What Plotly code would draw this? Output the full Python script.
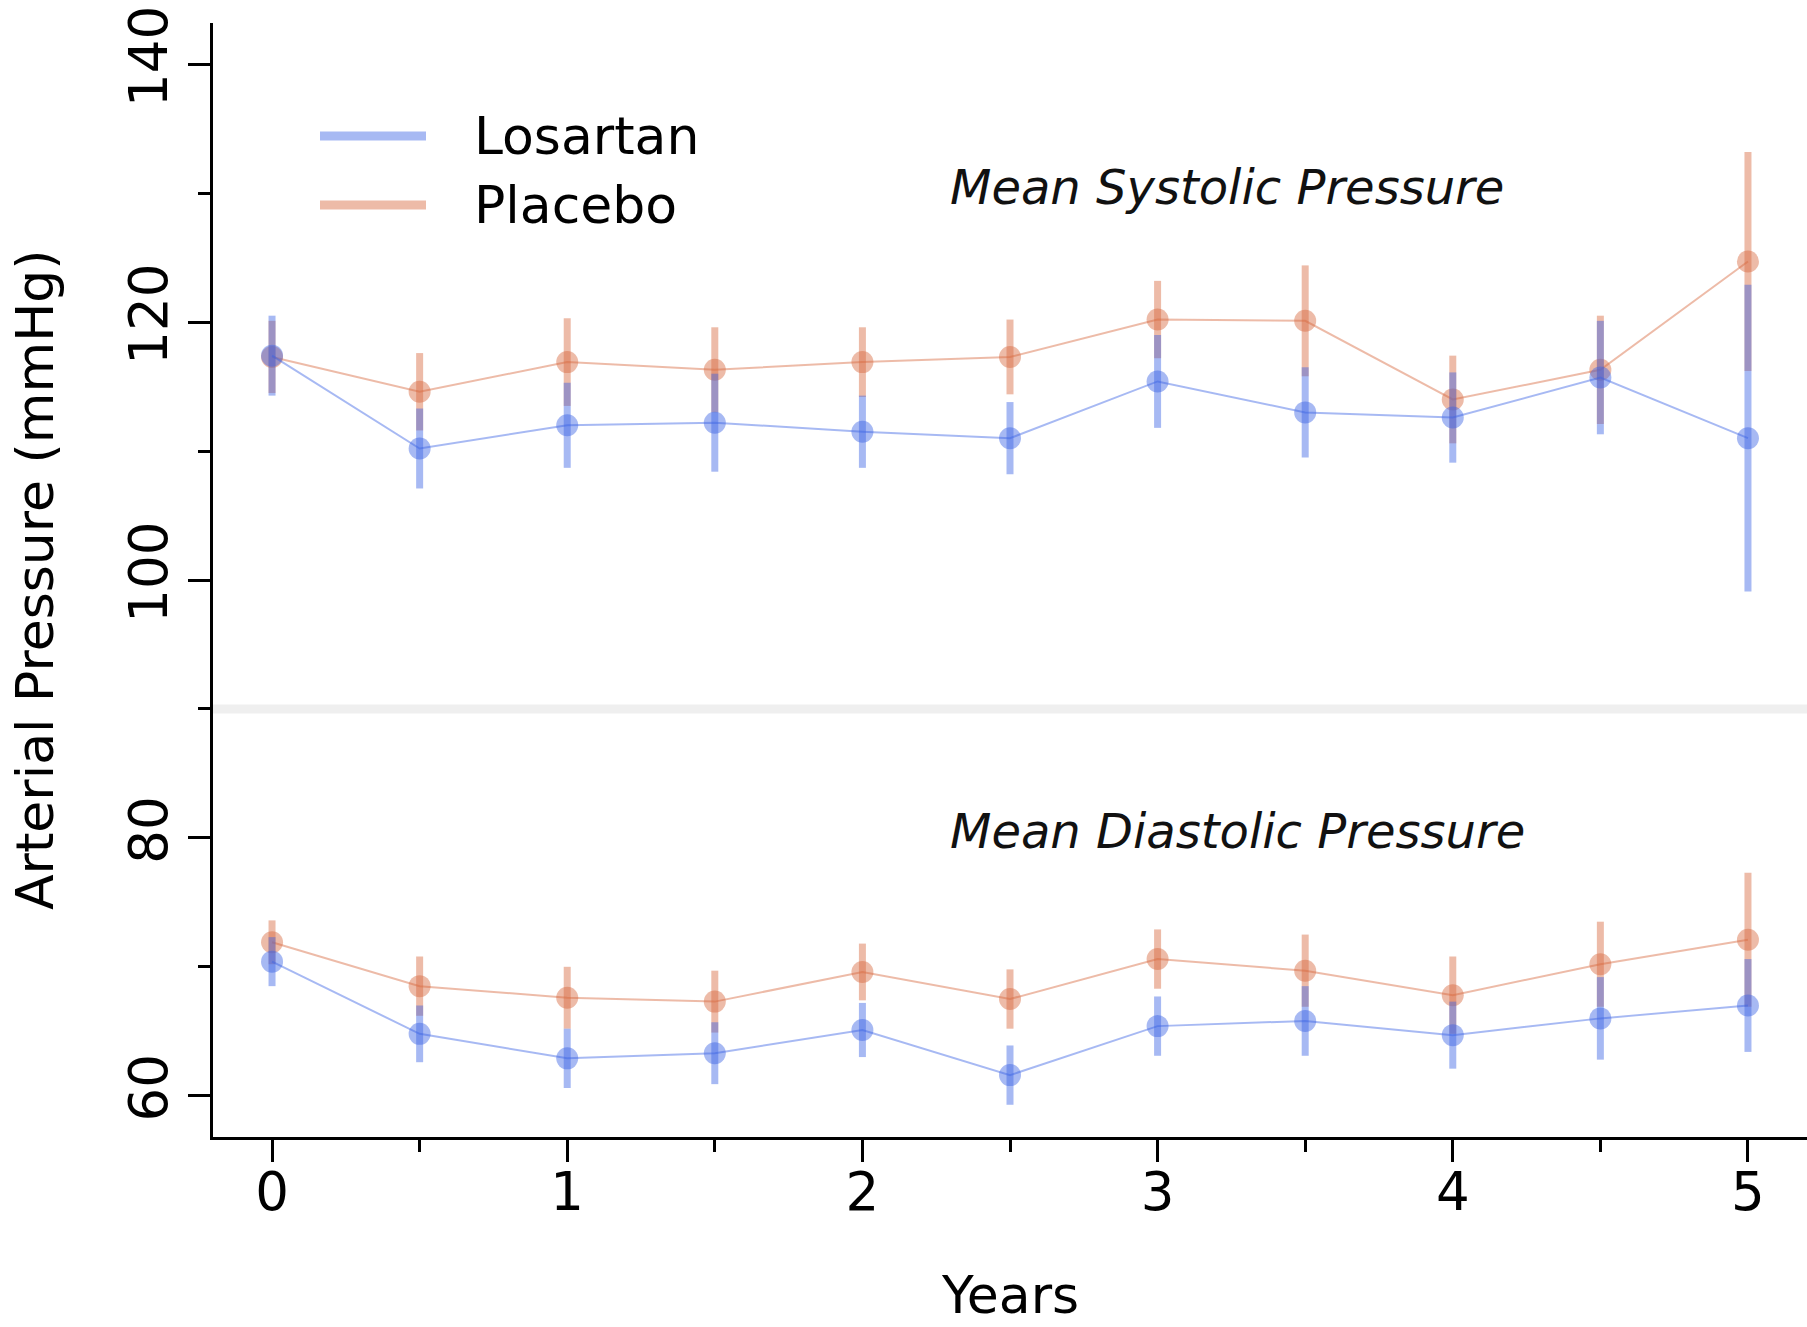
import plotly.graph_objects as go

# Follow-up time points (years)
years = [0, 0.5, 1, 1.5, 2, 2.5, 3, 3.5, 4, 4.5, 5]

# Mean systolic pressure (mmHg) and error half-widths
sys_losartan = [117.4, 110.2, 112.0, 112.2, 111.5, 111.0, 115.4, 113.0, 112.6, 115.7, 111.0]
sys_losartan_err = [3.1, 3.1, 3.3, 3.8, 2.8, 2.8, 3.6, 3.5, 3.5, 4.4, 11.9]
sys_placebo = [117.3, 114.6, 116.9, 116.3, 116.9, 117.3, 120.2, 120.1, 114.0, 116.3, 124.7]
sys_placebo_err = [2.8, 3.0, 3.4, 3.3, 2.7, 2.9, 3.0, 4.3, 3.4, 4.2, 8.5]

# Mean diastolic pressure (mmHg) and error half-widths
dia_losartan = [70.4, 64.8, 62.9, 63.3, 65.1, 61.6, 65.4, 65.8, 64.7, 66.0, 67.0]
dia_losartan_err = [1.9, 2.2, 2.3, 2.4, 2.1, 2.3, 2.3, 2.7, 2.6, 3.2, 3.6]
dia_placebo = [71.9, 68.5, 67.6, 67.3, 69.6, 67.5, 70.6, 69.7, 67.8, 70.2, 72.1]
dia_placebo_err = [1.7, 2.3, 2.4, 2.4, 2.2, 2.3, 2.3, 2.8, 3.0, 3.3, 5.2]

groups = ["Losartan", "Placebo"]
x_tick_vals = [0, 1, 2, 3, 4, 5]
y_tick_vals = [60, 80, 100, 120, 140]

FONT = "DejaVu Sans"
BLUE = "rgba(60, 100, 228, {a})"
ORANGE = "rgba(214, 104, 62, {a})"
ALPHA = 0.45

fig = go.Figure()


def add_series(y, err, color):
    fig.add_trace(go.Scatter(
        x=years, y=y,
        mode="lines+markers",
        line=dict(color=color.format(a=ALPHA), width=2),
        marker=dict(size=22, color=color.format(a=ALPHA), line=dict(width=0)),
        error_y=dict(type="data", array=err, visible=True,
                     color=color.format(a=ALPHA), thickness=7, width=0),
        showlegend=False,
        hoverinfo="x+y",
    ))


# Placebo drawn first so Losartan sits on top where they overlap
add_series(sys_placebo, sys_placebo_err, ORANGE)
add_series(dia_placebo, dia_placebo_err, ORANGE)
add_series(sys_losartan, sys_losartan_err, BLUE)
add_series(dia_losartan, dia_losartan_err, BLUE)

# Separator between the systolic and diastolic panels
fig.add_shape(type="line", xref="paper", x0=0, x1=1, yref="y", y0=90, y1=90,
              line=dict(color="#efefef", width=9), layer="below")

# Hand-drawn legend (long line swatches)
legend_rows = [(groups[0], BLUE, 136), (groups[1], ORANGE, 205)]
W, H = 1807, 1327
L, R, T, B = 213, 0, 23, 190
pw, ph = W - L - R, H - T - B
for name, col, ypx in legend_rows:
    yp = 1 - (ypx - T) / ph
    fig.add_shape(type="line", xref="paper", yref="paper",
                  x0=(320 - L) / pw, x1=(426 - L) / pw, y0=yp, y1=yp,
                  line=dict(color=col.format(a=ALPHA), width=9))
    fig.add_annotation(xref="paper", yref="paper", x=(472 - L) / pw, y=yp,
                       text=name, showarrow=False, xanchor="left", yanchor="middle",
                       font=dict(family=FONT, size=52, color="black"))

# Panel labels
fig.add_annotation(x=2.29, y=130.5, text="<i>Mean Systolic Pressure</i>",
                   showarrow=False, xanchor="left", yanchor="middle",
                   font=dict(family=FONT, size=48, color="#111111"))
fig.add_annotation(x=2.29, y=80.5, text="<i>Mean Diastolic Pressure</i>",
                   showarrow=False, xanchor="left", yanchor="middle",
                   font=dict(family=FONT, size=48, color="#111111"))

# Axis titles
fig.add_annotation(xref="paper", yref="paper", x=(35 - L) / pw, y=0.5,
                   text="Arterial Pressure (mmHg)", textangle=-90, showarrow=False,
                   xanchor="center", yanchor="middle",
                   font=dict(family=FONT, size=52, color="black"))
fig.add_annotation(xref="paper", yref="paper", x=0.5, y=-B / ph,
                   text="Years", showarrow=False, xanchor="center", yanchor="bottom",
                   font=dict(family=FONT, size=52, color="black"))

fig.update_layout(
    width=W, height=H,
    margin=dict(l=L, r=R, t=T, b=B, pad=0),
    paper_bgcolor="white", plot_bgcolor="white",
    font=dict(family=FONT, size=52, color="black"),
    showlegend=False,
)
fig.update_xaxes(
    range=[-0.2, 5.2], tickvals=x_tick_vals, ticktext=[str(v) for v in x_tick_vals],
    showline=True, linecolor="black", linewidth=3, mirror=False,
    ticks="outside", ticklen=22, tickwidth=2.5, tickcolor="black",
    minor=dict(ticks="outside", ticklen=12, tickwidth=2.5, tickcolor="black",
               dtick=0.5, tick0=0, showgrid=False),
    showgrid=False, zeroline=False, ticklabelstandoff=-16,
    tickfont=dict(family=FONT, size=53, color="black"),
)
fig.update_yaxes(
    range=[56.8, 143.2], tickvals=y_tick_vals, ticktext=[str(v) for v in y_tick_vals],
    showline=True, linecolor="black", linewidth=3, mirror=False,
    ticks="outside", ticklen=22, tickwidth=2.5, tickcolor="black",
    minor=dict(ticks="outside", ticklen=12, tickwidth=2.5, tickcolor="black",
               dtick=10, tick0=0, showgrid=False),
    showgrid=False, zeroline=False, tickangle=-90,
    tickfont=dict(family=FONT, size=53, color="black"),
)

fig.write_html("out.html")
